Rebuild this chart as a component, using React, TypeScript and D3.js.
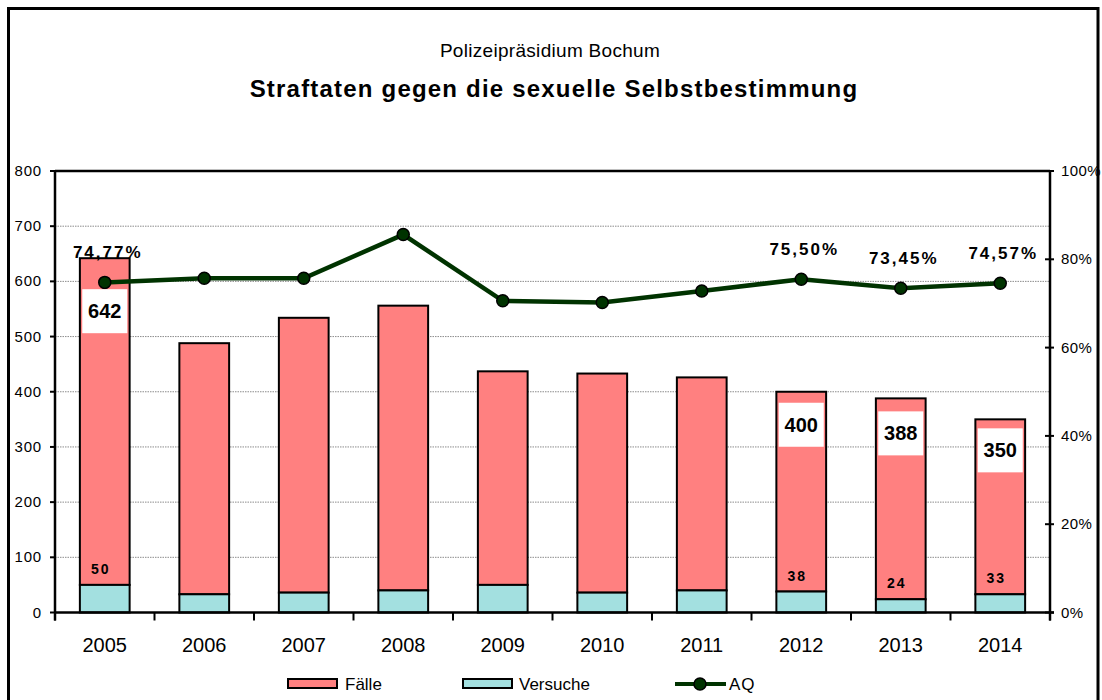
import React from 'react';
import * as d3 from 'd3';

const years = ['2005', '2006', '2007', '2008', '2009', '2010', '2011', '2012', '2013', '2014'];
const totals = [642, 488, 534, 556, 437, 433, 426, 400, 388, 350];
const versuche = [50, 33, 36, 40, 50, 36, 40, 38, 24, 33];
const aq = [74.77, 75.7, 75.7, 85.6, 70.6, 70.2, 72.8, 75.5, 73.45, 74.57];
const labelledYears = ['2005', '2012', '2013', '2014'];
const leftTicks = [0, 100, 200, 300, 400, 500, 600, 700, 800];
const rightTicks = [0, 20, 40, 60, 80, 100];
const seriesNames = ['Fälle', 'Versuche', 'AQ'];

const FONT = '"Liberation Sans", Arial, sans-serif';
const C_FAELLE = '#FF8080';
const C_VERS = '#A3E0E0';
const C_LINE = '#003300';

// manual label placement (Excel-style, offset of the total-label box centre below the bar top)
const totalBoxOffset: Record<string, number> = { '2005': 53, '2012': 33, '2013': 35, '2014': 31 };

export default function App() {
  const W = 1102, H = 700;
  const left = 55, right = 1050, top = 171, base = 612.5;

  const x = d3.scaleBand<string>().domain(years).range([left, right]).paddingInner(0.5).paddingOuter(0.25);
  const y = d3.scaleLinear().domain([0, 800]).range([base, top]);
  const yR = d3.scaleLinear().domain([0, 100]).range([base, top]);
  const bw = x.bandwidth();
  const step = x.step();
  const cx = (yr: string) => (x(yr) as number) + bw / 2;

  const line = d3.line<number>().x((_, i) => cx(years[i])).y(d => yR(d));

  const fmtPct = (v: number) => v.toFixed(2).replace('.', ',') + '%';

  return (
    <svg width={W} height={H} style={{ display: 'block', position: 'absolute', left: 0, top: 0 }} fontFamily={FONT}>
      <rect x={0} y={0} width={W} height={H} fill="#fff" />
      <rect x={8.5} y={8.5} width={1089.5} height={720} fill="#fff" stroke="#000" strokeWidth={3} />

      <text x={550} y={57} textAnchor="middle" fontSize={19} letterSpacing={0.3} fill="#000">Polizeipräsidium Bochum</text>
      <text x={554} y={97} textAnchor="middle" fontSize={24} fontWeight="bold" fill="#000" letterSpacing={1.2}>
        Straftaten gegen die sexuelle Selbstbestimmung
      </text>

      {/* gridlines */}
      {leftTicks.filter(t => t > 0 && t < 800).map(t => (
        <line key={'g' + t} x1={left} x2={right} y1={y(t)} y2={y(t)} stroke="#8c8c8c" strokeWidth={1} strokeDasharray="1.5,1" />
      ))}

      {/* bars */}
      {years.map((yr, i) => (
        <g key={'b' + yr}>
          <rect x={x(yr)} y={y(totals[i])} width={bw} height={y(versuche[i]) - y(totals[i])} fill={C_FAELLE} stroke="#000" strokeWidth={2} />
          <rect x={x(yr)} y={y(versuche[i])} width={bw} height={base - y(versuche[i])} fill={C_VERS} stroke="#000" strokeWidth={2} />
        </g>
      ))}

      {/* plot frame / axes */}
      <line x1={left} x2={right} y1={top} y2={top} stroke="#000" strokeWidth={2.5} />
      <line x1={left} x2={left} y1={top} y2={base + 8} stroke="#000" strokeWidth={2.5} />
      <line x1={right} x2={right} y1={top} y2={base + 8} stroke="#000" strokeWidth={2.5} />
      <line x1={left} x2={right + 4} y1={base} y2={base} stroke="#000" strokeWidth={2.5} />

      {/* x ticks at category boundaries */}
      {d3.range(years.length + 1).map(k => (
        <line key={'xt' + k} x1={left + k * step} x2={left + k * step} y1={base} y2={base + 8} stroke="#000" strokeWidth={2} />
      ))}
      {years.map(yr => (
        <text key={'xl' + yr} x={cx(yr)} y={652} textAnchor="middle" fontSize={20} fill="#000">{yr}</text>
      ))}

      {/* left ticks */}
      {leftTicks.map(t => (
        <g key={'lt' + t}>
          <line x1={left - 5} x2={left} y1={y(t)} y2={y(t)} stroke="#000" strokeWidth={2} />
          <text x={42} y={y(t) + 5} textAnchor="end" fontSize={15} letterSpacing={0.8} fill="#000">{t}</text>
        </g>
      ))}
      {/* right ticks */}
      {rightTicks.map(t => (
        <g key={'rt' + t}>
          <line x1={right - 5} x2={right + 4} y1={yR(t)} y2={yR(t)} stroke="#000" strokeWidth={2} />
          <text x={1061} y={yR(t) + 5} textAnchor="start" fontSize={15} letterSpacing={0.4} fill="#000">{t}%</text>
        </g>
      ))}

      {/* AQ line */}
      <path d={line(aq) || ''} fill="none" stroke={C_LINE} strokeWidth={4.5} />
      {aq.map((v, i) => (
        <circle key={'m' + i} cx={cx(years[i])} cy={yR(v)} r={6} fill={C_LINE} stroke="#000" strokeWidth={1.5} />
      ))}

      {/* labels */}
      {years.map((yr, i) => labelledYears.includes(yr) ? (
        <g key={'lab' + yr}>
          <text x={cx(yr) + 3} y={yR(aq[i]) - 24} textAnchor="middle" fontSize={17} fontWeight="bold" letterSpacing={2} fill="#000">{fmtPct(aq[i])}</text>
          <rect x={cx(yr) - 22.5} y={y(totals[i]) + totalBoxOffset[yr] - 22} width={45} height={44} fill="#fff" />
          <text x={cx(yr)} y={y(totals[i]) + totalBoxOffset[yr] + 7} textAnchor="middle" fontSize={20} fontWeight="bold" fill="#000">{totals[i]}</text>
          <text x={cx(yr) - 4} y={y(versuche[i]) - 11} textAnchor="middle" fontSize={14} fontWeight="bold" letterSpacing={2} fill="#000">{versuche[i]}</text>
        </g>
      ) : null)}

      {/* legend */}
      <g>
        <rect x={288} y={679} width={49} height={9} fill={C_FAELLE} stroke="#000" strokeWidth={2} />
        <text x={345} y={690} fontSize={17} fill="#000">{seriesNames[0]}</text>
        <rect x={463} y={679} width={49} height={9} fill={C_VERS} stroke="#000" strokeWidth={2} />
        <text x={519} y={690} fontSize={17} fill="#000">{seriesNames[1]}</text>
        <line x1={675} x2={726} y1={684} y2={684} stroke={C_LINE} strokeWidth={4} />
        <circle cx={700} cy={684} r={6} fill={C_LINE} stroke="#000" strokeWidth={1.5} />
        <text x={729} y={690} fontSize={17} letterSpacing={1} fill="#000">{seriesNames[2]}</text>
      </g>
    </svg>
  );
}
